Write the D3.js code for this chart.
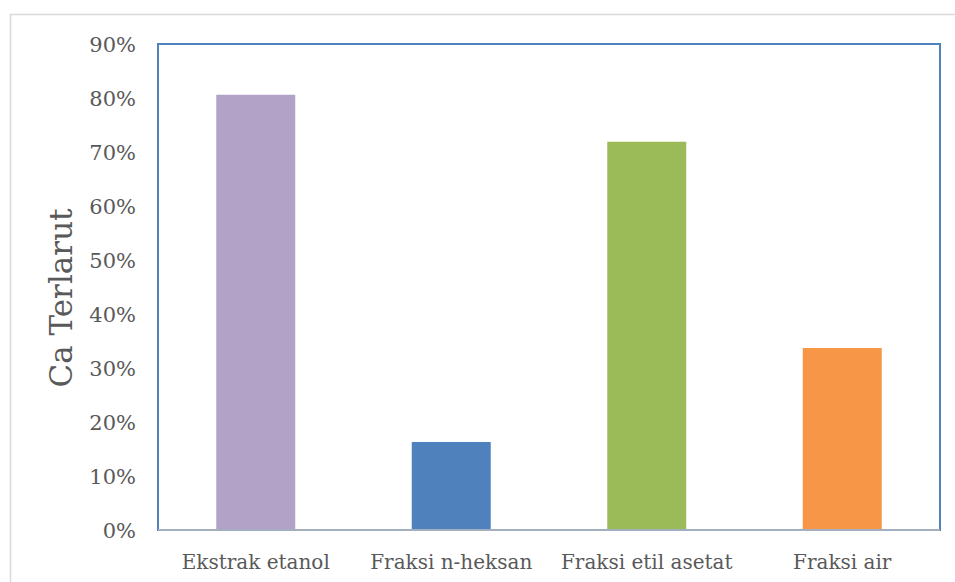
<!DOCTYPE html>
<html>
<head>
<meta charset="utf-8">
<script src="https://cdn.jsdelivr.net/npm/d3@7"></script>
<style>
  body { margin: 0; background: #fff; }
  text { font-family: "DejaVu Serif", "Liberation Serif", serif; fill: #595959; }
</style>
</head>
<body>
<div id="chart"></div>
<script>
var categories = ["Ekstrak etanol", "Fraksi n-heksan", "Fraksi etil asetat", "Fraksi air"]
var values = [0.806, 0.163, 0.719, 0.337]
var colors = ["#B3A2C7", "#4F81BD", "#9BBB59", "#F79646"]
var yTicks = [0, 0.1, 0.2, 0.3, 0.4, 0.5, 0.6, 0.7, 0.8, 0.9]
var yLabel = "Ca Terlarut"

var width = 955, height = 582
var margin = { left: 158, right: 15, top: 44, bottom: 52 }

var svg = d3.select("#chart").append("svg")
    .attr("width", width)
    .attr("height", height)

// outer chart border
svg.append("rect")
    .attr("x", 10.5).attr("y", 14.5)
    .attr("width", 960).attr("height", 600)
    .attr("fill", "none")
    .attr("stroke", "#D9D9D9")
    .attr("stroke-width", 1.5)

var x = d3.scaleBand()
    .domain(categories)
    .range([margin.left, width - margin.right])
    .paddingInner(0.596)
    .paddingOuter(0.298)

var y = d3.scaleLinear()
    .domain([0, 0.9])
    .range([height - margin.bottom, margin.top])

// bars
svg.selectAll(".bar")
    .data(values)
    .enter().append("rect")
    .attr("class", "bar")
    .attr("x", function (d, i) { return x(categories[i]) })
    .attr("y", function (d) { return y(d) })
    .attr("width", x.bandwidth())
    .attr("height", function (d) { return y(0) - y(d) })
    .attr("fill", function (d, i) { return colors[i] })

// plot area border
svg.append("rect")
    .attr("x", margin.left).attr("y", margin.top)
    .attr("width", width - margin.right - margin.left)
    .attr("height", y(0) - margin.top)
    .attr("fill", "none")
    .attr("stroke", "#4F81BD")
    .attr("stroke-width", 2)

// x axis line
svg.append("line")
    .attr("x1", margin.left).attr("x2", width - margin.right)
    .attr("y1", y(0)).attr("y2", y(0))
    .attr("stroke", "#BFBFBF")
    .attr("stroke-width", 1.5)

// y tick labels
svg.selectAll(".ytick")
    .data(yTicks)
    .enter().append("text")
    .attr("class", "ytick")
    .attr("x", 136)
    .attr("y", function (d) { return y(d) })
    .attr("dy", "0.36em")
    .attr("text-anchor", "end")
    .style("font-size", "21px")
    .text(d3.format(".0%"))

// category labels
svg.selectAll(".xtick")
    .data(categories)
    .enter().append("text")
    .attr("class", "xtick")
    .attr("x", function (d) { return x(d) + x.bandwidth() / 2 })
    .attr("y", 569)
    .attr("text-anchor", "middle")
    .style("font-size", "20px")
    .text(function (d) { return d })

// y axis title
svg.append("text")
    .attr("transform", "translate(61,298) rotate(-90)")
    .attr("text-anchor", "middle")
    .attr("dy", "0.35em")
    .style("font-size", "31px")
    .text(yLabel)
</script>
</body>
</html>
